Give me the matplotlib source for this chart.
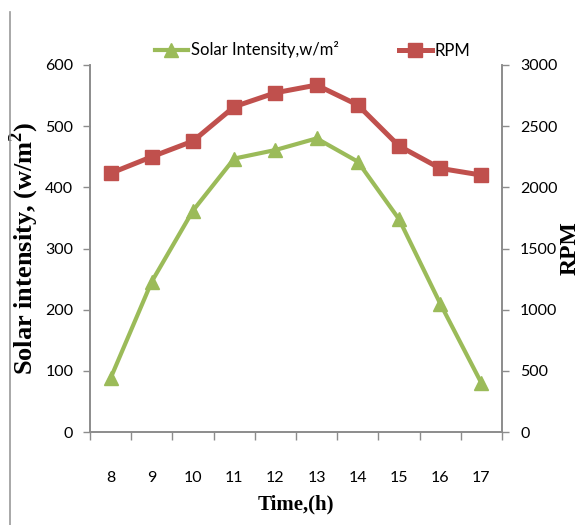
import matplotlib
matplotlib.use("Agg")
import matplotlib.pyplot as plt
from matplotlib.lines import Line2D
import numpy as np

# hourly readings
hours = ["8", "9", "10", "11", "12", "13", "14", "15", "16", "17"]
solar = [88, 246, 362, 447, 461, 480, 442, 348, 210, 80]          # w/m^2
rpm = [2115, 2250, 2378, 2659, 2773, 2836, 2673, 2338, 2155, 2100]

green = "#9BBB59"
red = "#C0504D"
axis_grey = "#8C8C8C"

plt.rcParams["font.family"] = ["Lato", "DejaVu Sans"]
plt.rcParams["mathtext.fontset"] = "custom"
plt.rcParams["mathtext.rm"] = "Liberation Serif"
plt.rcParams["mathtext.bf"] = "Liberation Serif:bold"

fig = plt.figure(figsize=(5.84, 5.25), dpi=100)
ax = fig.add_axes([90 / 584, 1 - 432 / 525, 412 / 584, 367 / 525])
ax2 = ax.twinx()

x = np.arange(len(hours))
l1, = ax.plot(x, solar, color=green, lw=3.0, marker="^", ms=10,
              label="Solar Intensity,w/m²", zorder=3)
l2, = ax2.plot(x, rpm, color=red, lw=3.6, marker="s", ms=9.5,
               label="RPM", zorder=3)

ax.set_xlim(-0.5, len(hours) - 0.5)
ax.set_ylim(0, 600)
ax2.set_ylim(0, 3000)
ax.set_yticks(range(0, 601, 100))
ax2.set_yticks(range(0, 3001, 500))

# category labels in the middle, tick marks on the boundaries
ax.set_xticks(x)
ax.set_xticklabels(hours)
ax.set_xticks(np.arange(-0.5, len(hours)), minor=True)
ax.tick_params(axis="x", which="major", length=0, pad=28, labelsize=11.5)
ax.tick_params(axis="x", which="minor", length=6, width=1, color=axis_grey)
ax.tick_params(axis="y", length=5, width=1, color=axis_grey, pad=7, labelsize=11.5)
ax2.tick_params(axis="y", length=5, width=1, color=axis_grey, pad=8, labelsize=11.5)

for a in (ax, ax2):
    a.spines["top"].set_visible(False)
    for s in ("left", "right", "bottom"):
        a.spines[s].set_color(axis_grey)
        a.spines[s].set_linewidth(1.2)

ax.set_xlabel("Time,(h)", family="Liberation Serif", fontweight="bold", fontsize=15)
ax.xaxis.set_label_coords(0.5, -0.17)
ax.set_ylabel(r"Solar intensity, (w/m$^\mathbf{2}$)", family="Liberation Serif",
              fontweight="bold", fontsize=19)
ax.yaxis.set_label_coords(-0.12, 0.5)
ax2.set_ylabel("RPM", family="Liberation Serif", fontweight="bold", fontsize=17)
ax2.yaxis.set_label_coords(1.14, 0.5)

fig.legend(handles=[l1, l2], loc="center", bbox_to_anchor=(0.535, 1 - 50 / 525),
           ncol=2, frameon=False, fontsize=12, handlelength=2.0,
           columnspacing=3.6, handletextpad=0.15)

# chart border on the left
fig.add_artist(Line2D([10 / 584, 10 / 584], [0, 1 - 12 / 525],
                      transform=fig.transFigure, color="#999999", lw=1.2))

fig.savefig("out.png", dpi=100, facecolor="white")
